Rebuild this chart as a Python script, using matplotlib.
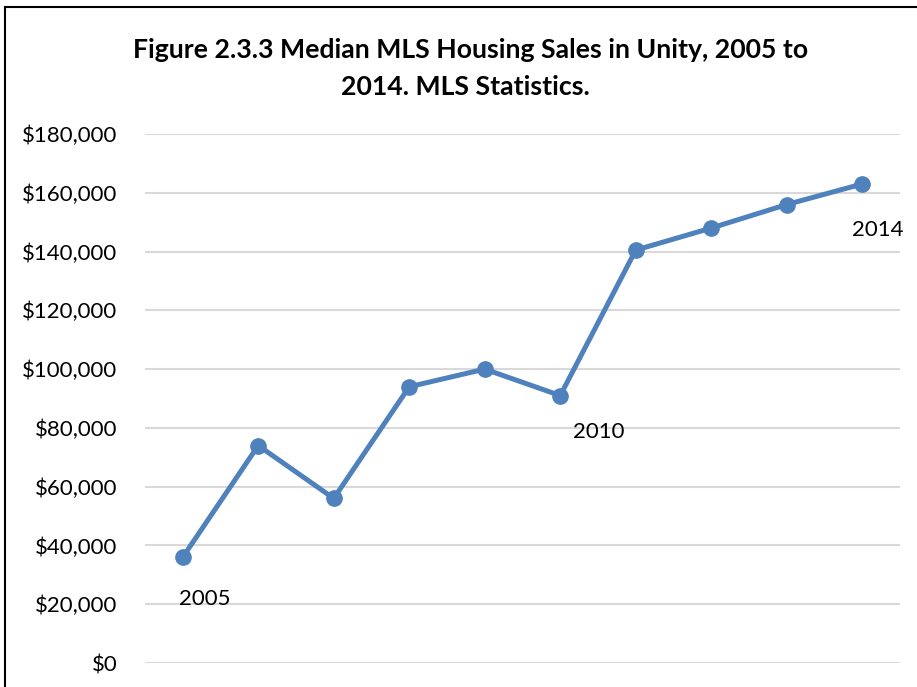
import matplotlib
matplotlib.use("Agg")
import matplotlib.pyplot as plt
from matplotlib.ticker import FuncFormatter
from matplotlib.lines import Line2D

years = ["2005", "2006", "2007", "2008", "2009", "2010", "2011", "2012", "2013", "2014"]
median_price = [36000, 74000, 56000, 94000, 100000, 91000, 140500, 148000, 156000, 163000]
labelled_years = ["2005", "2010", "2014"]
y_ticks = [0, 20000, 40000, 60000, 80000, 100000, 120000, 140000, 160000, 180000]

plt.rcParams['font.family'] = ['Lato', 'DejaVu Sans']

W, H = 917, 687
fig = plt.figure(figsize=(W / 100, H / 100), dpi=100)
left, right, top, bottom = 145, 900, 134, 663
ax = fig.add_axes([left / W, (H - bottom) / H, (right - left) / W, (bottom - top) / H])

x = list(range(len(years)))
ax.plot(x, median_price, color="#4f81bd", linewidth=3.6, marker="o",
        markersize=11, zorder=3, clip_on=False)

ax.set_xlim(-0.5, len(years) - 0.5)
ax.set_ylim(0, 180000)
ax.set_yticks(y_ticks)
ax.yaxis.set_major_formatter(FuncFormatter(lambda v, p: "${:,.0f}".format(v)))
ax.grid(axis="y", color="#d9d9d9", linewidth=1.5)
ax.set_axisbelow(True)
ax.tick_params(axis="y", length=0, pad=20, labelsize=16)
ax.tick_params(axis="x", length=0, labelbottom=False)
for s in ax.spines.values():
    s.set_visible(False)

offsets = {"2005": (16, -30), "2010": (28, -26), "2014": (11, -33)}
for yr in labelled_years:
    i = years.index(yr)
    ax.annotate(yr, (x[i], median_price[i]), xytext=offsets[yr], textcoords="offset points",
                ha="center", va="center", fontsize=16)

fig.text(471 / W, 1 - 50 / H, "Figure 2.3.3 Median MLS Housing Sales in Unity, 2005 to",
         ha="center", va="center", fontsize=19.2, fontweight="bold")
fig.text(465 / W, 1 - 87 / H, "2014. MLS Statistics.",
         ha="center", va="center", fontsize=19.2, fontweight="bold")

# outer frame (left and top edges visible)
fig.add_artist(Line2D([5 / W, 5 / W], [0, 1 - 7 / H], transform=fig.transFigure, color="black", linewidth=1.5))
fig.add_artist(Line2D([5 / W, 1], [1 - 7 / H, 1 - 7 / H], transform=fig.transFigure, color="black", linewidth=1.5))

fig.savefig("out.png", dpi=100)
